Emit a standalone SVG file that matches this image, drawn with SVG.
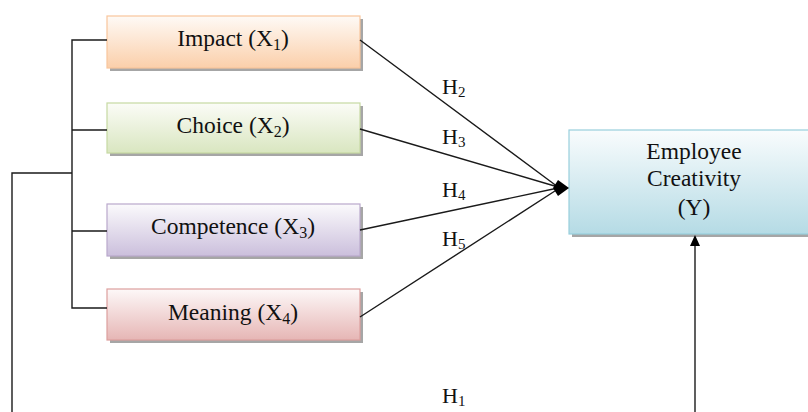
<svg xmlns="http://www.w3.org/2000/svg" width="808" height="412" viewBox="0 0 808 412">
<style>
.t{font-family:"Liberation Serif","Times New Roman",serif;font-size:23.5px;fill:#111;text-anchor:middle}
.h{font-family:"Liberation Serif","Times New Roman",serif;font-size:22px;fill:#111}
.sh{fill:#a6a6a6}
.ln{stroke:#1a1a1a;stroke-width:1.4;fill:none}
</style>
<defs>
<linearGradient id="gO" x1="0" y1="0" x2="0" y2="1"><stop offset="0" stop-color="#fefaf6"/><stop offset="1" stop-color="#fbcfaa"/></linearGradient>
<linearGradient id="gG" x1="0" y1="0" x2="0" y2="1"><stop offset="0" stop-color="#fbfcf7"/><stop offset="1" stop-color="#d9e6c0"/></linearGradient>
<linearGradient id="gP" x1="0" y1="0" x2="0" y2="1"><stop offset="0" stop-color="#fbfafc"/><stop offset="1" stop-color="#cbbfdc"/></linearGradient>
<linearGradient id="gR" x1="0" y1="0" x2="0" y2="1"><stop offset="0" stop-color="#fdf8f8"/><stop offset="1" stop-color="#e6b6b5"/></linearGradient>
<linearGradient id="gB" x1="0" y1="0" x2="0" y2="1"><stop offset="0" stop-color="#f9fcfd"/><stop offset="1" stop-color="#b5dbe5"/></linearGradient>
</defs>

<g id="impact">
<rect class="sh" x="110" y="19" width="253" height="52"/>
<rect x="107" y="16" width="253" height="52" fill="url(#gO)" stroke="#f8c59c" stroke-width="1.2"/>
<text class="t" x="233" y="46">Impact (X<tspan font-size="16" dy="4">1</tspan><tspan dy="-4">)</tspan></text>
</g>
<g id="choice">
<rect class="sh" x="110" y="106" width="253" height="50"/>
<rect x="107" y="103" width="253" height="50" fill="url(#gG)" stroke="#c6d9a2" stroke-width="1.2"/>
<text class="t" x="233" y="133">Choice (X<tspan font-size="16" dy="4">2</tspan><tspan dy="-4">)</tspan></text>
</g>
<g id="competence">
<rect class="sh" x="110" y="207" width="253" height="52"/>
<rect x="107" y="204" width="253" height="52" fill="url(#gP)" stroke="#b9a8cc" stroke-width="1.2"/>
<text class="t" x="233" y="234">Competence (X<tspan font-size="16" dy="4">3</tspan><tspan dy="-4">)</tspan></text>
</g>
<g id="meaning">
<rect class="sh" x="110" y="292" width="253" height="51"/>
<rect x="107" y="289" width="253" height="51" fill="url(#gR)" stroke="#dd9f9d" stroke-width="1.2"/>
<text class="t" x="233" y="320">Meaning (X<tspan font-size="16" dy="4">4</tspan><tspan dy="-4">)</tspan></text>
</g>
<g id="creativity">
<rect class="sh" x="572" y="133" width="250" height="104"/>
<rect x="569" y="130" width="250" height="104" fill="url(#gB)" stroke="#98cfdd" stroke-width="1.2"/>
<text class="t" x="694" y="159">Employee</text>
<text class="t" x="694" y="186">Creativity</text>
<text class="t" x="694" y="215">(Y)</text>
</g>

<g id="connectors">
<path class="ln" d="M107,40 H72 V308 H107 M72,130 H107 M72,231 H107 M72,173 H12 V412"/>
<path class="ln" d="M360,40 L558,187 M360,129 L558,187 M360,230 L558,188 M360,317 L558,189"/>
<path d="M569,188 L558,180 L553,188 L558,196 Z" fill="#000"/>
<path class="ln" d="M695,412 V243"/>
<path d="M695,235 L690,246 L700,246 Z" fill="#000"/>
</g>

<g id="labels">
<text class="h" x="442" y="94">H<tspan font-size="15" dy="3">2</tspan></text>
<text class="h" x="442" y="144">H<tspan font-size="15" dy="3">3</tspan></text>
<text class="h" x="442" y="197">H<tspan font-size="15" dy="3">4</tspan></text>
<text class="h" x="442" y="246">H<tspan font-size="15" dy="3">5</tspan></text>
<text class="h" x="442" y="403">H<tspan font-size="15" dy="3">1</tspan></text>
</g>
</svg>
